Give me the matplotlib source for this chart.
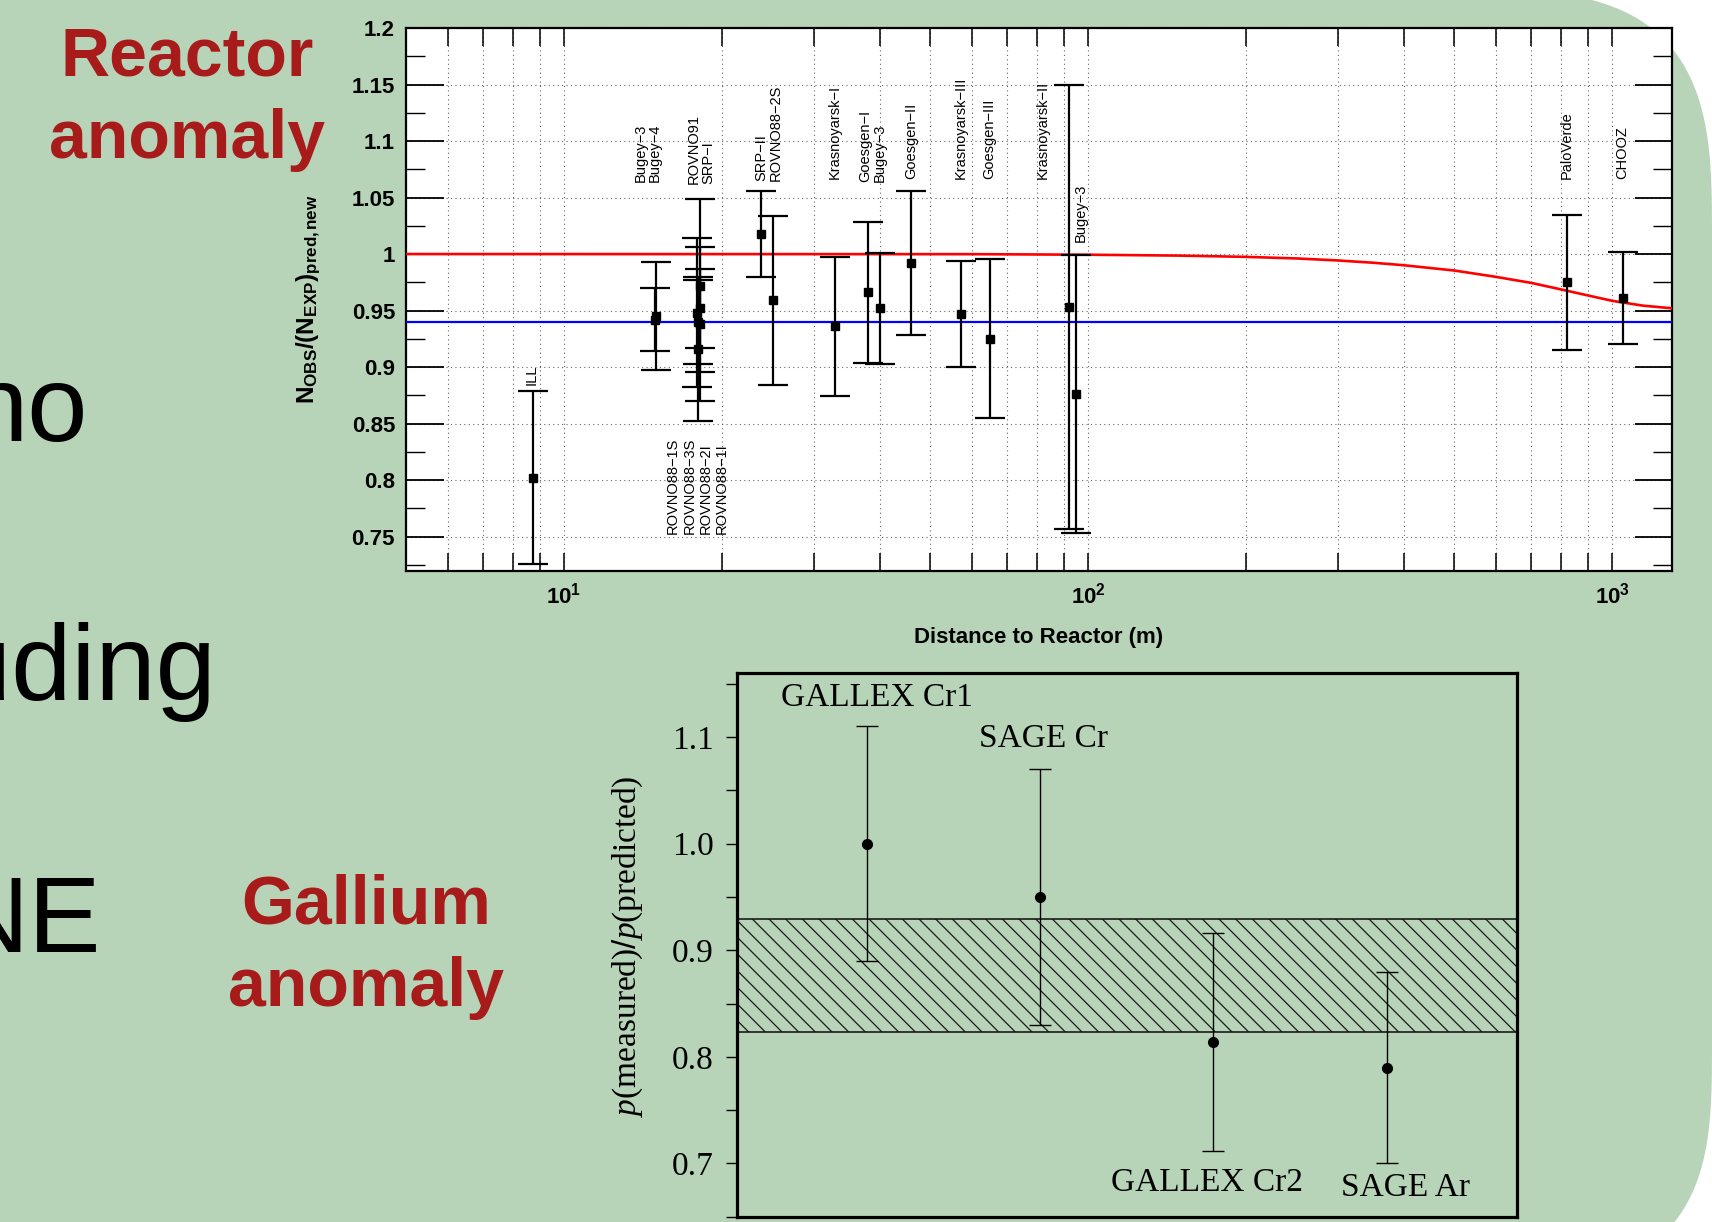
import numpy as np
import matplotlib
matplotlib.use("Agg")
import matplotlib.pyplot as plt
from matplotlib.patches import Polygon
from matplotlib.ticker import MultipleLocator, FixedLocator, FuncFormatter, LogLocator, NullFormatter

plt.rcParams['font.family'] = ['Liberation Sans', 'DejaVu Sans']
plt.rcParams['mathtext.fontset'] = 'custom'
plt.rcParams['mathtext.bf'] = 'Liberation Sans:bold'
plt.rcParams['mathtext.rm'] = 'Liberation Sans'
plt.rcParams['mathtext.it'] = 'Liberation Serif:italic'
plt.rcParams['hatch.linewidth'] = 0.9

# ---------------- data: reactor anomaly ----------------
experiments = ['ILL', 'Bugey-4', 'Bugey-3', 'ROVNO91', 'SRP-I', 'ROVNO88-1I', 'ROVNO88-2I',
               'ROVNO88-1S', 'ROVNO88-3S', 'SRP-II', 'ROVNO88-2S', 'Krasnoyarsk-I', 'Goesgen-I',
               'Bugey-3 40m', 'Goesgen-II', 'Krasnoyarsk-III', 'Goesgen-III', 'Krasnoyarsk-II',
               'Bugey-3 95m', 'PaloVerde', 'CHOOZ']
distance_m = [8.74, 14.9, 15.0, 18.03, 18.2, 18.0, 17.96, 18.15, 18.18, 23.8, 25.1, 32.9, 38.0,
              40.0, 45.9, 57.2, 64.9, 92.0, 94.7, 818, 1046]
ratio = [0.802, 0.942, 0.945, 0.940, 0.952, 0.916, 0.948, 0.972, 0.938, 1.018, 0.959, 0.936, 0.966,
         0.952, 0.992, 0.947, 0.925, 0.953, 0.876, 0.975, 0.961]
ratio_err = [0.0765, 0.028, 0.048, 0.037, 0.035, 0.064, 0.066, 0.0765, 0.068, 0.038, 0.075, 0.0615,
             0.0625, 0.049, 0.064, 0.047, 0.0705, 0.1966, 0.123, 0.0595, 0.041]

# red curve
curve_dist = [5, 60, 100, 150, 200, 250, 300, 350, 400, 500, 600, 700, 800, 900, 1000, 1142, 1300]
curve_ratio = [1.0, 0.9999, 0.9994, 0.9986, 0.9975, 0.9961, 0.9943, 0.9923, 0.9901, 0.9854,
               0.9798, 0.9745, 0.9686, 0.9633, 0.9586, 0.9544, 0.952]
mean_ratio = 0.94

label_texts = ['ILL', 'Bugey−3\nBugey−4', 'ROVNO91\nSRP−I', 'SRP−II\nROVNO88−2S', 'Krasnoyarsk−I',
               'Goesgen−I\nBugey−3', 'Goesgen−II', 'Krasnoyarsk−III', 'Goesgen−III',
               'Krasnoyarsk−II', 'Bugey−3', 'PaloVerde', 'CHOOZ']
label_x = [8.66, 14.43, 18.25, 24.55, 32.9, 38.75, 45.9, 57.2, 64.9, 82.1, 97.0, 818, 1046]
label_y = [0.884, 1.064, 1.062, 1.065, 1.066, 1.064, 1.066, 1.066, 1.066, 1.066, 1.011, 1.066, 1.066]
bottom_label = 'ROVNO88−1S\nROVNO88−3S\nROVNO88−2I\nROVNO88−1I'
bottom_label_x = 17.97
bottom_label_y = 0.752

x_ticks = [10, 100, 1000]
x_ticklabels = [r'$\mathbf{10^{1}}$', r'$\mathbf{10^{2}}$', r'$\mathbf{10^{3}}$']

# ---------------- data: gallium anomaly ----------------
ga_names = ['GALLEX Cr1', 'SAGE Cr', 'GALLEX Cr2', 'SAGE Ar']
ga_pos = [1, 2, 3, 4]
ga_ratio = [1.00, 0.95, 0.814, 0.79]
ga_err_lo = [0.11, 0.12, 0.102, 0.09]
ga_err_hi = [0.11, 0.12, 0.102, 0.09]
ga_band = (0.823, 0.929)
ga_label_x = [1.056, 2.017, 2.965, 4.11]
ga_label_y = [1.137, 1.098, 0.682, 0.677]
ga_ticks = [0.7, 0.8, 0.9, 1.0, 1.1]

W, H = 1712, 1222
GREEN = '#b7d4b8'
DARKRED = '#a81b1b'

fig = plt.figure(figsize=(W / 100, H / 100), dpi=100)
fig.patch.set_facecolor('white')

# slide panel with rounded right corners
def corner(cx, cy, a, b, n, t0, t1):
    t = np.linspace(t0, t1, 80)
    c = np.cos(t)
    s = np.sin(t)
    xs = cx + a * np.sign(c) * np.abs(c) ** (2 / n)
    ys = cy + b * np.sign(s) * np.abs(s) ** (2 / n)
    return list(zip(xs, ys))

pts = [(-10, -10)]
pts += corner(1462, 240, 250, 250, 3.2, -np.pi / 2, 0)
pts += corner(1462, 1041, 250, 240, 3.2, 0, np.pi / 2)
pts += [(-10, 1300)]
pts_fig = [(x / W, 1 - y / H) for x, y in pts]
fig.add_artist(Polygon(pts_fig, closed=True, transform=fig.transFigure,
                       facecolor=GREEN, edgecolor='none', zorder=-10))

# slide texts
fig.text(187.5 / W, 1 - 75 / H, 'Reactor', ha='center', va='baseline', fontsize=49,
         fontweight='bold', color=DARKRED)
fig.text(187 / W, 1 - 158 / H, 'anomaly', ha='center', va='baseline', fontsize=49,
         fontweight='bold', color=DARKRED)
fig.text(366 / W, 1 - 923.5 / H, 'Gallium', ha='center', va='baseline', fontsize=49,
         fontweight='bold', color=DARKRED)
fig.text(366 / W, 1 - 1006 / H, 'anomaly', ha='center', va='baseline', fontsize=49,
         fontweight='bold', color=DARKRED)
fig.text(88 / W, 1 - 441 / H, 'no', ha='right', va='baseline', fontsize=78, color='black')
fig.text(216 / W, 1 - 700 / H, 'uding', ha='right', va='baseline', fontsize=78, color='black')
fig.text(101 / W, 1 - 952 / H, 'NE', ha='right', va='baseline', fontsize=78, color='black')

# ---------------- top plot ----------------
L, R, T, B = 406.2, 1672, 28, 570.5
ax1 = fig.add_axes([L / W, 1 - B / H, (R - L) / W, (B - T) / H])
ax1.set_facecolor('white')
ax1.set_xscale('log')
ax1.set_xlim(5, 1300)
ax1.set_ylim(0.72, 1.2)

ax1.plot(curve_dist, curve_ratio, color='#ff0000', lw=1.9, zorder=3)
ax1.axhline(mean_ratio, color='#0000ff', lw=1.6, zorder=3)
ax1.errorbar(distance_m, ratio, yerr=ratio_err, fmt='s', color='black', ms=6,
             capsize=11, elinewidth=1.6, capthick=1.6, zorder=5)

ax1.xaxis.set_major_locator(FixedLocator(x_ticks))
ax1.set_xticklabels(x_ticklabels)
ax1.xaxis.set_minor_locator(LogLocator(base=10, subs=np.arange(2, 10)))
ax1.xaxis.set_minor_formatter(NullFormatter())
ax1.yaxis.set_major_locator(MultipleLocator(0.05))
ax1.yaxis.set_minor_locator(MultipleLocator(0.025))
ax1.yaxis.set_major_formatter(FuncFormatter(lambda v, p: '%g' % round(v, 3)))

ax1.tick_params(axis='x', which='both', direction='in', top=True, bottom=True,
                length=13, width=1.1, labelsize=16, pad=9)
ax1.tick_params(axis='y', which='major', direction='in', left=True, right=True,
                length=27, width=1.3, labelsize=16, pad=8)
ax1.tick_params(axis='y', which='minor', direction='in', left=True, right=True,
                length=13.5, width=1.0)
for lab in ax1.get_yticklabels():
    lab.set_fontweight('bold')
ax1.grid(True, which='major', axis='y', linestyle=(0, (1, 3)), color='#666666', lw=0.8)
ax1.grid(True, which='both', axis='x', linestyle=(0, (1, 3)), color='#666666', lw=0.8)
for sp in ax1.spines.values():
    sp.set_linewidth(1.6)

for txt, lx, ly in zip(label_texts, label_x, label_y):
    ax1.text(lx, ly, txt, rotation=90, ha='center', va='bottom', multialignment='left',
             fontsize=10.5, linespacing=1.0, zorder=6)
ax1.text(bottom_label_x, bottom_label_y, bottom_label, rotation=90, ha='center', va='bottom',
         multialignment='left', fontsize=10.5, linespacing=1.2, zorder=6)

fig.text(309 / W, 1 - 299 / H, r'$\mathbf{N_{OBS}/(N_{EXP})_{pred,new}}$', rotation=90,
         ha='center', va='center', fontsize=17.5)
fig.text(1039 / W, 1 - 638 / H, 'Distance to Reactor (m)', ha='center', va='center',
         fontsize=16, fontweight='bold')

# ---------------- bottom plot ----------------
L2, R2, T2, B2 = 737, 1516.5, 673, 1216.8
ax2 = fig.add_axes([L2 / W, 1 - B2 / H, (R2 - L2) / W, (B2 - T2) / H])
ax2.set_facecolor('none')
ax2.set_xlim(0.25, 4.75)
ax2.set_ylim(0.65, 1.16)
ax2.axhspan(ga_band[0], ga_band[1], facecolor='none', edgecolor='#1a1a1a', hatch='\\\\',
            lw=1.2, zorder=2)
ax2.errorbar(ga_pos, ga_ratio, yerr=[ga_err_lo, ga_err_hi], fmt='o', color='black', ms=7,
             capsize=8, elinewidth=1.0, capthick=1.0, zorder=4)
for name, lx, ly in zip(ga_names, ga_label_x, ga_label_y):
    ax2.text(lx, ly, name, ha='center', va='center', fontsize=24, family='Liberation Serif')

ax2.set_xticks([])
ax2.yaxis.set_major_locator(FixedLocator(ga_ticks))
ax2.yaxis.set_major_formatter(FuncFormatter(lambda v, p: '%.1f' % v))
ax2.yaxis.set_minor_locator(MultipleLocator(0.05))
ax2.tick_params(axis='y', which='both', direction='out', length=8, width=1.0, pad=9,
                labelsize=24, right=False)
for lab in ax2.get_yticklabels():
    lab.set_family('Liberation Serif')
for sp in ax2.spines.values():
    sp.set_linewidth(2.3)

fig.text(628 / W, 1 - 946 / H, r'$p$(measured)$/p$(predicted)', rotation=90, ha='center',
         va='center', fontsize=24, family='Liberation Serif')

fig.savefig('out.png', dpi=100, facecolor=fig.get_facecolor())
